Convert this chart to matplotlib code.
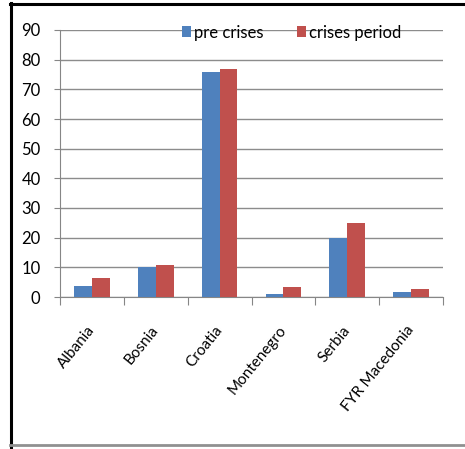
import numpy as np
import matplotlib
matplotlib.use("Agg")
import matplotlib.pyplot as plt
from matplotlib.lines import Line2D

plt.rcParams['font.family'] = ['Lato', 'DejaVu Sans']

countries = ['Albania', 'Bosnia', 'Croatia', 'Montenegro', 'Serbia', 'FYR Macedonia']
pre_crises = [3.7, 10.2, 76, 1.0, 19.8, 1.6]
crises_period = [6.3, 10.8, 77, 3.3, 25.1, 2.6]
yticks = list(range(0, 100, 10))

W, H = 465, 449
fig = plt.figure(figsize=(W / 100, H / 100), dpi=100)
ax = fig.add_axes([60 / W, 1 - 297 / H, 383 / W, 267 / H])

x = np.arange(len(countries))
w = 0.28
ax.bar(x - w / 2, pre_crises, w, color='#4F81BD', label='pre crises', zorder=3)
ax.bar(x + w / 2, crises_period, w, color='#C0504D', label='crises period', zorder=3)

ax.set_xlim(-0.5, len(countries) - 0.5)
ax.set_ylim(0, 90)
ax.set_yticks(yticks)
ax.tick_params(axis='y', labelsize=12, length=4, color='#868686', pad=10)
ax.yaxis.grid(True, color='#8c8c8c', linewidth=1)
ax.set_axisbelow(True)

# category boundaries as tick marks, labels at centers
ax.set_xticks(np.arange(len(countries) + 1) - 0.5)
ax.set_xticklabels([])
ax.tick_params(axis='x', length=6, color='#868686', direction='out')
ax.set_xticks(x, minor=True)
ax.set_xticklabels(countries, minor=True, rotation=51, ha='right', va='center',
                   rotation_mode='anchor', fontsize=11)
ax.tick_params(axis='x', which='minor', length=0, pad=22)

for s in ['top', 'right']:
    ax.spines[s].set_visible(False)
for s in ['left', 'bottom']:
    ax.spines[s].set_color('#868686')

ax.legend(loc='upper left', bbox_to_anchor=(0.3, 1.045), ncol=2, frameon=False,
          fontsize=12, handlelength=0.55, handleheight=0.6, handletextpad=0.2,
          columnspacing=2.0, borderaxespad=0)

# outer frame
fig.add_artist(Line2D([11 / W, 11 / W], [0, 1 - 3 / H], color='black', lw=2.2,
                      transform=fig.transFigure))
fig.add_artist(Line2D([10 / W, 1], [1 - 4 / H, 1 - 4 / H], color='black', lw=2.2,
                      transform=fig.transFigure))
fig.add_artist(Line2D([10 / W, 1], [1 - 445 / H, 1 - 445 / H], color='#909090', lw=2,
                      transform=fig.transFigure))

fig.savefig('out.png', dpi=100)
